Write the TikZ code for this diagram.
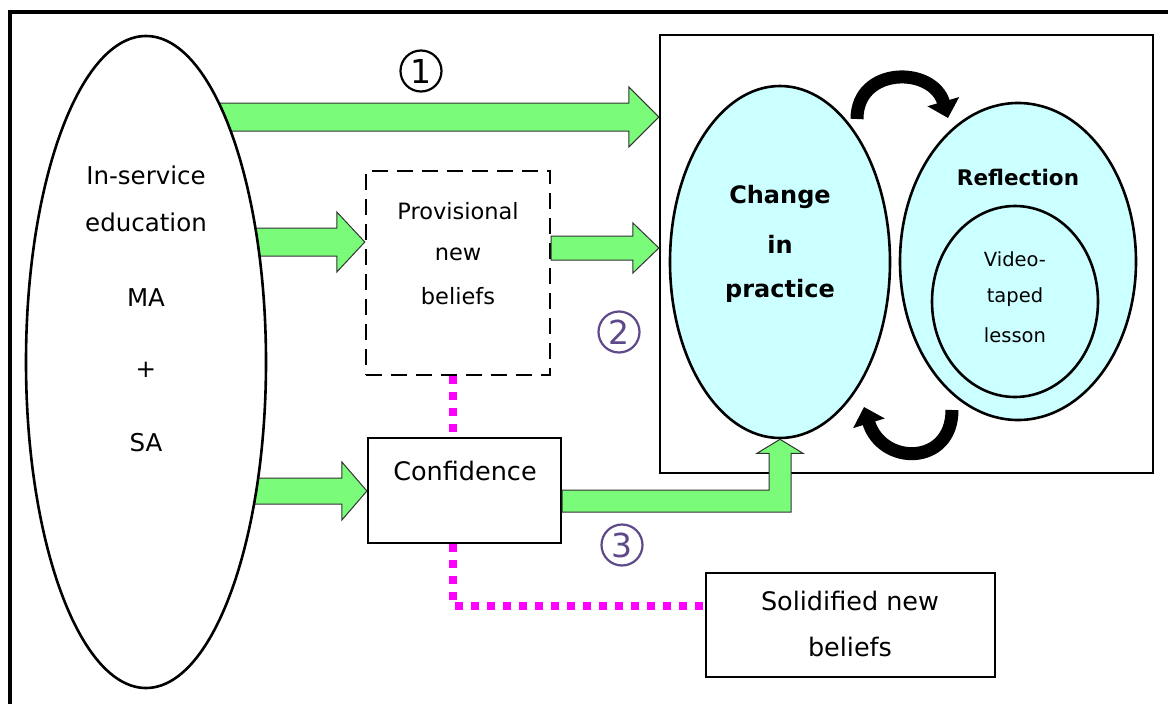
\documentclass[tikz,border=0pt]{standalone}
\usepackage{fontspec}
\setmainfont{DejaVu Sans}
\usetikzlibrary{shapes.geometric,arrows.meta,calc}
\definecolor{arrgreen}{RGB}{122,252,122}
\definecolor{arredge}{RGB}{50,50,50}
\definecolor{lcyan}{RGB}{204,255,255}
\definecolor{numpurple}{RGB}{94,74,138}
\definecolor{dotmag}{RGB}{255,0,255}
\newcommand{\hblock}[5]{%
  \path[blockarrow] let \p1=(#1), \p2=(#2) in
    (\x1,\y2+#3) -- (\x2-#5,\y2+#3) -- (\x2-#5,\y2+#4) -- (\x2,\y2)
    -- (\x2-#5,\y2-#4) -- (\x2-#5,\y2-#3) -- (\x1,\y2-#3) -- cycle;}
\begin{document}
\begin{tikzpicture}[x=1pt,y=-1pt,
  blockarrow/.style={fill=arrgreen,draw=arredge,line width=1pt,line join=miter},
  boxline/.style={draw=black,line width=2.2pt},
  bigoval/.style={ellipse,draw=black,line width=2.6pt,inner sep=0pt},
  txt/.style={inner sep=0pt,align=center},
  magdots/.style={draw=dotmag,line width=8pt,dash pattern=on 8pt off 8pt},
  curlarrow/.style={line width=13pt,-{Triangle[length=17pt,width=32pt]}},
  circnum/.style={circle,draw,line width=2.2pt,minimum size=41pt,inner sep=0pt,
    font=\fontsize{33}{33}\selectfont}]
\useasboundingbox (0,0) rectangle (1168,704);
\fill[white] (0,0) rectangle (1168,704);
% outer frame (only top and left visible)
\draw[line width=4pt] (10,704) -- (10,12) -- (1168,12);

% practice frame
\node[boxline,minimum width=493pt,minimum height=438pt,inner sep=0pt] (pbox) at (906.5,254) {};
% boxes
\node[draw=black,line width=2.4pt,dash pattern=on 16pt off 9pt,minimum width=184pt,minimum height=204pt,inner sep=0pt] (prov) at (458,273) {};
\node[boxline,minimum width=193pt,minimum height=105pt,inner sep=0pt] (conf) at (464.5,490.5) {};
\node[boxline,minimum width=289pt,minimum height=104pt,inner sep=0pt] (solid) at (850.5,625) {};

% magenta dotted connectors
\coordinate (dotx) at (453,0);
\coordinate (sj) at (solid.west |- 0,606);
\draw[magdots] (dotx |- prov.south) -- (dotx |- conf.north);
\draw[magdots] (dotx |- conf.south) -- (dotx |- sj) -- (sj);

% green block arrows
\coordinate (a1) at (pbox.west |- 0,117);
\coordinate (a2) at (prov.west |- 0,242);
\coordinate (a3) at (conf.west |- 0,491);
\coordinate (a4) at (pbox.west |- 0,248);
\coordinate (a4s) at (prov.east |- 0,248);
\hblock{146,117}{a1}{14pt}{30pt}{30pt}
\hblock{146,242}{a2}{14pt}{30pt}{28pt}
\hblock{146,491}{a3}{13pt}{29pt}{25pt}
\hblock{a4s}{a4}{12pt}{25pt}{26pt}

% in-service ellipse
\node[bigoval,fill=white,minimum width=240pt,minimum height=652pt] (ise) at (146,362) {};
\node[txt,font=\fontsize{24.5}{24.5}\selectfont] (t1) at (146,175) {In-service};
\node[txt,font=\fontsize{24.5}{24.5}\selectfont] (t2) at (146,222) {education};
\node[txt,font=\fontsize{24.5}{24.5}\selectfont] (t3) at (146,298) {MA};
\node[txt,font=\fontsize{24.5}{24.5}\selectfont] (t4) at (146,370) {+};
\node[txt,font=\fontsize{24.5}{24.5}\selectfont] (t5) at (146,443) {SA};

% practice & reflection ellipses
\node[bigoval,fill=lcyan,minimum width=220pt,minimum height=352pt] (change) at (780,262) {};
\node[bigoval,fill=lcyan,minimum width=236pt,minimum height=317pt] (refl) at (1018,261.5) {};
\node[bigoval,fill=lcyan,minimum width=166pt,minimum height=191pt] (video) at (1015,301.5) {};

% elbow arrow confidence -> change
\coordinate (e3) at (conf.east |- 0,501);
\path[blockarrow] let \p1=(change.south), \p2=(e3) in
  (\x2,\y2+11pt) -- (\x1-11pt,\y2+11pt) -- (\x1-11pt,\y1-14pt) -- (\x1-23pt,\y1-14pt)
  -- (\x1,\y1) -- (\x1+23pt,\y1-14pt) -- (\x1+11pt,\y1-14pt) -- (\x1+11pt,\y2-11pt)
  -- (\x2,\y2-11pt) -- cycle;

% curled arrows
\coordinate (c1s) at (857,119);
\coordinate (c1e) at (948,118);
\coordinate (c2s) at (952,410);
\coordinate (c2e) at (864,407);
\draw[curlarrow] (c1s) .. controls (857,66) and (933,66) .. (c1e);
\draw[curlarrow] (c2s) .. controls (952,466) and (882,466) .. (c2e);

% texts
\node[txt,font=\fontsize{22.5}{22.5}\selectfont] (p1) at (458,211) {Provisional};
\node[txt,font=\fontsize{22.5}{22.5}\selectfont] (p2) at (458,254) {new};
\node[txt,font=\fontsize{22.5}{22.5}\selectfont] (p3) at (458,296) {beliefs};
\node[txt,font=\fontsize{25.5}{25.5}\selectfont] (ct) at (465,471) {Confidence};
\node[txt,font=\fontsize{25.5}{25.5}\selectfont] (s1) at (850,601) {Solidified new};
\node[txt,font=\fontsize{25.5}{25.5}\selectfont] (s2) at (850,647) {beliefs};
\node[txt,font=\bfseries\fontsize{24}{24}\selectfont] (ch1) at (780,197) {Change};
\node[txt,font=\bfseries\fontsize{24}{24}\selectfont] (ch2) at (780,244) {in};
\node[txt,font=\bfseries\fontsize{24}{24}\selectfont] (ch3) at (780,291) {practice};
\node[txt,font=\bfseries\fontsize{21.5}{21.5}\selectfont] (rt) at (1018,177) {Reflection};
\node[txt,font=\fontsize{19.5}{19.5}\selectfont] (v1) at (1015,259) {Video-};
\node[txt,font=\fontsize{19.5}{19.5}\selectfont] (v2) at (1015,297) {taped};
\node[txt,font=\fontsize{19.5}{19.5}\selectfont] (v3) at (1015,335) {lesson};

% circled numbers
\node[circnum,draw=black,text=black] (n1) at (421,71) {1};
\node[circnum,draw=numpurple,text=numpurple] (n2) at (619,332) {2};
\node[circnum,draw=numpurple,text=numpurple] (n3) at (622,545) {3};
\end{tikzpicture}
\end{document}
